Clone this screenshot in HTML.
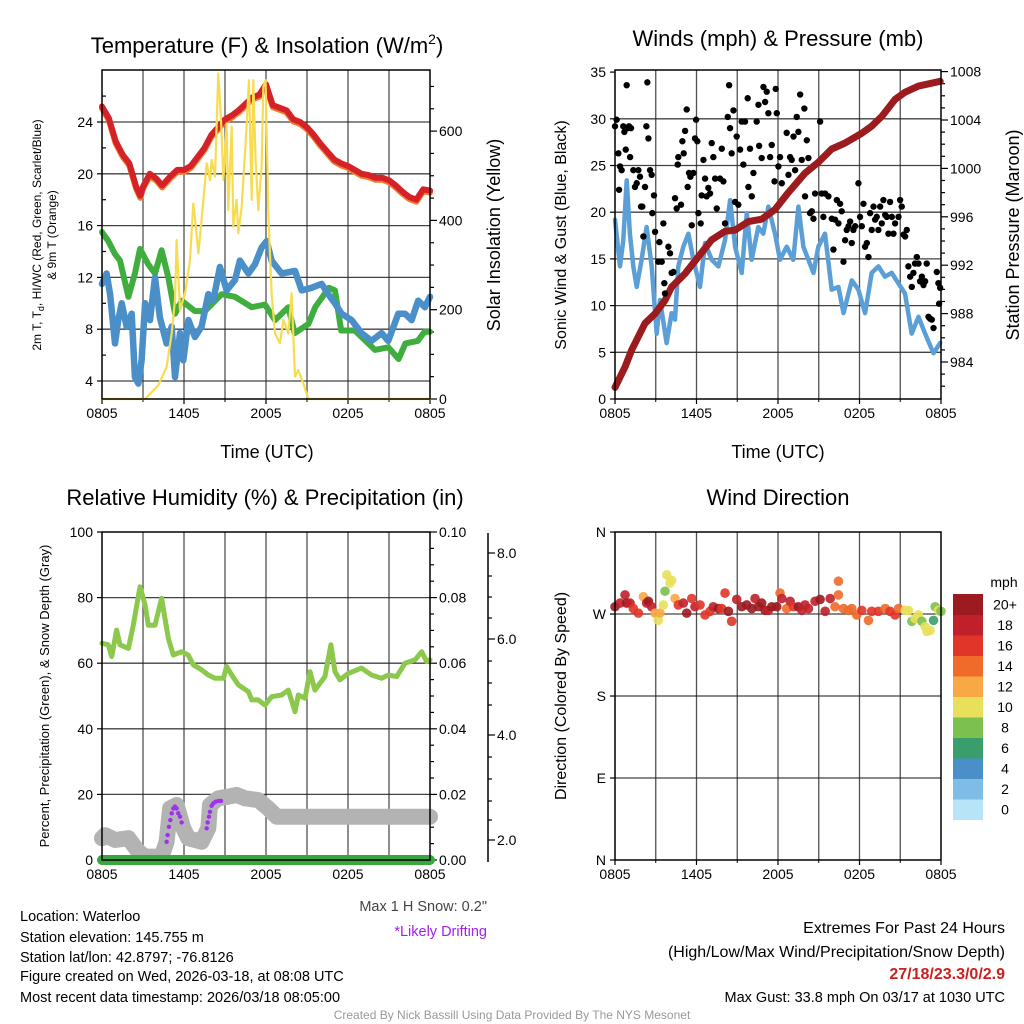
<!DOCTYPE html>
<html><head><meta charset="utf-8"><style>
html,body{margin:0;padding:0;background:#fff;}
svg{display:block;font-family:"Liberation Sans",sans-serif;}
</style></head><body>
<svg id="fig" width="1024" height="1024" viewBox="0 0 1024 1024">
<rect width="1024" height="1024" fill="#fff"/>
<g id="p1"></g>
<g id="p2"></g>
<g id="p3"></g>
<g id="p4"></g>

<text x="267" y="53" font-size="22" text-anchor="middle">Temperature (F) &amp; Insolation (W/m<tspan dy="-9" font-size="14">2</tspan><tspan dy="9">)</tspan></text>
<text x="778" y="46" font-size="22" text-anchor="middle">Winds (mph) &amp; Pressure (mb)</text>
<text x="265" y="505" font-size="22" text-anchor="middle">Relative Humidity (%) &amp; Precipitation (in)</text>
<text x="778" y="505" font-size="22" text-anchor="middle">Wind Direction</text>

<text x="267" y="458" font-size="18" text-anchor="middle">Time (UTC)</text>
<text x="778" y="458" font-size="18" text-anchor="middle">Time (UTC)</text>
<text transform="translate(41,235) rotate(-90)" font-size="12" text-anchor="middle">2m T, T<tspan font-size="9" dy="3">d</tspan><tspan dy="-3">, HI/WC (Red, Green, Scarlet/Blue)</tspan></text>
<text transform="translate(56,235) rotate(-90)" font-size="12" text-anchor="middle">&amp; 9m T (Orange)</text>
<text transform="translate(500,235) rotate(-90)" font-size="18" text-anchor="middle">Solar Insolation (Yellow)</text>
<text transform="translate(566,235) rotate(-90)" font-size="16" text-anchor="middle">Sonic Wind &amp; Gust (Blue, Black)</text>
<text transform="translate(1019,235) rotate(-90)" font-size="18" text-anchor="middle">Station Pressure (Maroon)</text>
<text transform="translate(49,696) rotate(-90)" font-size="13" text-anchor="middle">Percent, Precipitation (Green), &amp; Snow Depth (Gray)</text>
<text transform="translate(566,696) rotate(-90)" font-size="16" text-anchor="middle">Direction (Colored By Speed)</text>

<text x="487" y="911" font-size="14.5" fill="#444" text-anchor="end">Max 1 H Snow: 0.2"</text>
<text x="487" y="936" font-size="14.5" fill="#a020f0" text-anchor="end">*Likely Drifting</text>
<g font-size="14.5">
<text x="20" y="921">Location: Waterloo</text>
<text x="20" y="942">Station elevation: 145.755 m</text>
<text x="20" y="962">Station lat/lon: 42.8797; -76.8126</text>
<text x="20" y="981">Figure created on Wed, 2026-03-18, at 08:08 UTC</text>
<text x="20" y="1002">Most recent data timestamp: 2026/03/18 08:05:00</text>
</g>
<g text-anchor="end">
<text x="1005" y="933" font-size="16">Extremes For Past 24 Hours</text>
<text x="1005" y="957" font-size="16">(High/Low/Max Wind/Precipitation/Snow Depth)</text>
<text x="1005" y="979" font-size="16" font-weight="bold" fill="#cc2020">27/18/23.3/0/2.9</text>
<text x="1005" y="1002" font-size="14.5">Max Gust: 33.8 mph On 03/17 at 1030 UTC</text>
</g>
<text x="512" y="1019" font-size="12" fill="#999" text-anchor="middle">Created By Nick Bassill Using Data Provided By The NYS Mesonet</text>
</svg>
<script>
// ---------- DATA ----------
const timeTickLabels = ["0805","1405","2005","0205","0805"];
const tempT = [0,0.5,1,1.5,2,2.5,2.8,3,3.5,4,4.4,5,5.5,6,6.5,7,7.5,8,8.5,9,9.5,10,10.5,11,11.5,12,12.5,13,13.5,14,14.5,15,15.5,16,16.5,17,17.5,18,18.5,19,19.5,20,20.5,21,21.5,22,22.5,23,23.5,24];
const tempV = [25.2,24.3,22.5,21.5,20.8,19.0,18.3,19.0,20.0,19.6,19.1,19.8,20.3,20.3,20.6,21.3,22.0,23.0,23.6,24.2,24.5,24.9,25.4,25.9,26.1,26.9,25.3,25.1,24.9,24.2,24.0,23.6,23.0,22.3,21.7,21.1,20.8,20.6,20.3,20.0,19.9,19.7,19.7,19.5,19.1,18.6,18.2,18.0,18.8,18.7];
const dewT = [0,0.46,0.95,1.32,1.93,2.41,2.78,3.39,3.88,4.36,4.85,5.34,5.83,6.8,7.53,8.75,9.73,10.95,11.93,12.66,13.63,14.1,15.1,15.6,16.6,17.05,17.5,18.5,19.97,20.95,21.7,22.2,23.1,23.6,24];
const dewV = [15.5,14.8,13.8,13.3,10.5,12.3,14.2,13.0,12.3,14.1,12.0,9.2,10.2,9.4,9.4,10.7,10.5,9.7,9.9,8.7,9.7,7.7,8.4,9.7,11.2,11.0,7.9,7.9,6.4,6.6,5.7,6.9,7.1,7.8,7.8];
const chillT = [0,0.34,0.59,0.95,1.19,1.44,1.8,2.17,2.41,2.66,2.9,3.15,3.51,3.88,4.24,4.73,5.1,5.34,5.71,5.95,6.32,6.8,7.29,7.78,8.14,8.63,9.12,9.73,10.09,10.71,11.19,11.68,12.05,12.41,13.14,14.12,14.61,15.34,16.07,16.56,17.04,17.53,18.26,18.99,19.72,20.46,20.94,21.68,22.17,22.65,23.14,23.63,24];
const chillV = [11.5,12.3,10.7,6.9,8.7,10.0,8.2,9.2,4.3,3.8,5.6,10.0,8.7,12.0,8.9,6.9,8.2,4.3,7.7,5.6,8.7,7.4,8.2,10.7,10.2,12.8,11.0,11.8,13.3,12.3,13.0,14.3,14.8,13.3,12.3,12.5,11.0,11.2,11.5,10.7,10.0,9.2,8.7,7.7,7.1,7.7,7.1,9.2,9.2,8.7,10.2,9.7,10.5];
const solT = [0,3.15,4.12,4.73,5.1,5.34,5.46,5.71,6.07,6.44,6.68,6.8,7.05,7.29,7.66,7.9,8.02,8.27,8.51,8.71,8.88,9.12,9.24,9.49,9.61,9.85,9.97,10.22,10.58,10.75,10.95,11.07,11.24,11.44,11.68,11.8,11.97,12.17,12.41,12.66,13.02,13.27,13.63,13.87,14.12,14.36,14.73,15.1,24];
const solV = [0,0,31,72,147,222,356,199,237,311,438,408,326,401,528,490,535,498,729,625,490,617,423,610,386,446,371,431,610,714,446,714,535,423,520,699,714,416,237,147,125,177,147,237,50,65,35,0,0];
const presT = [0,0.74,1.23,2.21,2.95,3.68,4.17,5.15,6.14,7.12,8.1,8.84,9.82,10.8,11.78,12.76,13.99,14.97,15.95,16.94,18.16,18.9,19.64,20.62,21.36,22.34,23.94];
const presV = [981.9,983.6,985.0,987.2,988.0,989.1,990.2,991.3,992.7,994.1,994.8,994.9,995.6,995.8,996.6,998.0,999.6,1000.5,1001.6,1002.1,1002.9,1003.5,1004.3,1005.7,1006.3,1006.8,1007.2];
const windT = [0,0.37,0.61,0.86,1.1,1.35,1.6,1.96,2.33,2.7,3.07,3.31,3.8,4.17,4.42,4.66,5.03,5.4,5.77,6.26,6.63,7.12,7.61,8.1,8.47,8.84,9.33,9.7,10.06,10.55,10.92,11.29,11.78,12.15,12.64,13.13,13.5,13.87,14.24,14.61,14.97,15.46,15.95,16.45,16.82,17.43,17.92,18.41,18.9,19.39,19.88,20.37,20.86,21.35,21.84,22.34,22.83,23.45,23.94];
const windV = [19.2,14.2,17.0,23.4,17.7,14.2,12.0,14.9,18.4,14.2,7.0,10.6,6.0,9.2,8.5,14.2,16.3,17.7,14.9,12.0,16.7,14.9,14.2,17.0,21.3,16.3,13.5,19.9,14.9,18.4,17.7,20.6,17.7,14.9,16.3,14.9,20.6,16.3,14.9,13.5,16.3,17.7,11.7,12.0,9.2,12.7,11.7,9.2,13.5,14.2,13.1,13.5,12.4,11.3,7.0,8.8,7.0,4.9,6.0];
const gustT = [0,0.12,0.25,0.37,0.3,0.49,0.61,0.69,0.86,0.79,0.93,1.03,1.11,1.18,1.35,1.47,1.6,1.72,1.84,1.92,2.01,2.09,2.21,2.31,2.38,2.46,2.58,2.7,2.75,2.87,2.95,3.19,3.27,3.44,3.56,3.63,3.68,3.93,4.05,4.17,4.3,4.42,4.54,4.62,4.66,4.86,4.96,5.06,5.16,5.28,5.35,5.45,5.55,5.65,5.77,5.89,5.97,6.06,6.14,6.31,6.38,6.51,6.63,6.75,6.87,7.0,7.12,7.24,7.37,7.49,7.73,7.86,7.98,8.1,8.3,8.4,8.47,8.59,8.72,8.84,8.96,9.08,9.21,9.33,9.45,9.57,9.77,9.82,9.94,10.07,10.19,10.43,10.56,10.61,10.8,10.93,11.05,11.17,11.29,11.42,11.54,11.74,11.83,11.91,12.03,12.15,12.28,12.64,12.77,12.89,13.01,13.14,13.26,13.38,13.5,13.63,13.75,13.94,13.99,14.12,14.24,14.36,14.49,14.61,14.73,15.1,15.22,15.34,15.47,15.71,15.96,16.08,16.2,16.33,16.45,16.57,16.69,16.82,16.94,17.06,17.19,17.31,17.43,17.55,17.68,17.92,18.04,18.17,18.29,18.41,18.54,18.66,18.78,18.9,19.03,19.15,19.27,19.39,19.52,19.64,19.76,19.89,20.01,20.13,20.25,20.38,20.5,20.62,20.87,20.99,21.11,21.24,21.36,21.48,21.6,21.73,21.85,21.97,22.09,22.22,22.34,22.46,22.59,22.71,22.83,22.95,23.08,23.2,23.32,23.45,23.69,23.81,23.94,23.86];
const gustV = [29.2,29.9,26.3,24.9,22.4,24.5,29.2,28.6,33.6,26.7,29.0,29.2,25.9,29.0,24.5,22.7,23.1,24.5,23.8,20.6,20.6,17.4,22.7,29.2,33.9,27.9,24.5,24.0,19.9,21.8,17.9,14.7,16.8,14.7,18.8,12.4,11.3,16.3,15.6,13.5,13.6,21.5,20.4,25.1,25.9,20.8,27.6,26.3,28.7,31.0,22.7,24.2,23.8,18.6,24.2,27.9,29.9,27.6,19.9,18.8,21.8,25.6,23.6,21.7,22.6,22.0,27.4,25.9,23.6,20.4,23.6,26.8,23.3,18.8,30.2,33.6,29.0,26.3,30.9,21.1,28.1,20.8,26.7,29.7,25.1,29.7,32.2,22.7,26.8,21.7,24.2,29.7,31.5,27.1,25.8,33.4,31.8,32.9,30.6,25.9,27.2,23.3,33.2,30.6,24.9,25.9,23.1,28.5,24.0,25.9,25.6,28.1,24.5,30.2,28.6,32.6,25.6,31.1,21.7,27.7,25.8,19.9,20.1,19.3,22.0,29.7,22.0,19.5,22.0,21.7,19.3,16.0,19.2,21.3,18.8,20.9,20.1,14.7,17.0,18.1,18.5,19.0,16.7,18.1,18.5,23.1,19.5,18.5,20.9,16.3,16.7,15.2,19.9,18.1,20.6,19.2,19.5,18.1,20.6,18.8,21.3,19.7,19.5,17.7,21.1,19.5,17.7,18.8,19.5,21.3,20.6,17.6,17.4,18.1,14.2,13.1,12.0,13.5,14.5,15.2,14.5,12.6,13.1,12.2,12.6,14.5,8.8,8.6,8.5,7.6,13.6,12.4,11.9,10.2];
const rhT = [0,0.46,0.71,1.07,1.32,1.93,2.29,2.78,3.15,3.39,3.88,4.36,4.85,5.22,5.83,6.31,6.68,7.29,7.78,8.27,8.88,9.12,9.49,9.97,10.71,10.95,11.44,11.93,12.41,13.14,13.63,14.12,14.36,14.85,15.22,15.58,16.31,16.75,17.05,17.41,18.02,18.99,19.72,20.46,20.95,21.56,22.17,22.9,23.39,23.75,24];
const rhV = [66.1,65.6,62.0,70.1,65.6,64.5,71.6,83.3,77.7,71.6,71.6,79.8,67.6,62.5,63.5,62.5,59.5,58.0,56.4,55.4,55.4,59.0,56.4,53.4,51.3,48.8,48.8,47.2,49.8,50.3,51.8,45.2,50.3,49.3,57.4,51.8,55.9,65.6,57.4,54.9,56.9,58.5,56.4,55.4,56.4,55.9,60.0,61.0,63.5,60.5,61.0];
const snowT = [0,0.22,0.95,1.93,2.66,3.15,4.36,4.73,4.98,5.46,5.95,6.31,7.29,7.78,7.9,8.51,9.24,9.85,10.46,11.44,12.17,12.78,14.12,24];
const snowV = [2.07,2.19,2.0,2.07,1.55,1.36,1.36,1.93,3.22,3.35,2.45,2.07,1.93,2.45,3.35,3.61,3.67,3.74,3.61,3.54,3.22,2.9,2.9,2.9];
const driftT = [4.73,4.8,4.9,5.0,5.1,5.22,5.34,5.46,5.58,5.71,5.83,7.66,7.73,7.83,7.9,8.02,8.14,8.31,8.51,8.71];
const driftV = [1.93,2.19,2.51,2.77,3.03,3.22,3.29,3.22,3.03,2.9,2.68,2.45,2.68,2.9,3.09,3.32,3.41,3.48,3.51,3.51];
const precipT = [0,24];
const precipV = [0,0];
const dirT = [0,0.37,0.74,0.86,1.11,1.35,1.72,2.09,2.33,2.46,2.7,2.95,3.19,3.31,3.56,3.68,3.81,4.05,4.17,4.42,4.66,5.03,5.28,5.65,5.89,6.26,6.63,7.0,7.24,7.61,7.86,8.1,8.35,8.59,8.96,9.33,9.7,10.07,10.31,10.56,10.8,11.05,11.29,11.54,11.91,12.15,12.28,12.64,12.89,13.14,13.5,13.75,13.99,14.24,14.73,15.1,15.47,15.84,16.2,16.45,16.45,16.82,17.19,17.43,17.8,18.17,18.66,18.9,19.39,19.89,20.25,20.62,20.87,21.36,21.6,21.85,22.09,22.34,22.59,22.83,22.96,23.2,23.45,23.57,23.81,24];
const dirV = [278,282,291,282,282,276,271,289,282,284,278,271,263,271,280,295,313,304,307,287,280,282,271,287,278,280,269,273,278,276,276,293,273,262,286,278,280,276,287,278,282,274,274,278,278,293,287,276,284,278,278,274,280,276,284,286,273,287,278,291,306,276,274,276,269,274,263,273,273,276,273,269,276,274,274,262,265,269,262,256,251,252,263,278,274,273];
const dirS = [21,17,17,21,17,15,15,11,17,21,17,11,9,11,9,7,9,9,9,11,15,17,21,15,17,15,15,15,17,21,15,15,21,15,17,21,21,21,17,21,21,21,17,21,21,13,17,13,17,15,21,17,17,17,17,21,17,17,13,13,13,13,13,13,13,15,13,15,15,13,15,15,13,10,9,7,9,9,7,9,9,9,5,7,9,7];
const dirLabels = ["N","W","S","E","N"];
const speedBins = ["0","2","4","6","8","10","12","14","16","18","20+"];
const speedColors = ["#b8e4f8","#80bde6","#4a8fc8","#3a9e6c","#7cc04f","#e8e05a","#f8a845","#f06a2a","#e03528","#c0202a","#9b1b20"];

// ---------- HELPERS ----------
const NS = "http://www.w3.org/2000/svg";
function mk(parent, tag, attrs) { const e = document.createElementNS(NS, tag); for (const k in attrs) e.setAttribute(k, attrs[k]); parent.appendChild(e); return e; }
function line(parent, ts, vs, xf, yf, attrs) {
  let d = ts.map((t, i) => (i ? "L" : "M") + xf(t).toFixed(1) + "," + yf(vs[i]).toFixed(1)).join("");
  return mk(parent, "path", Object.assign({ d: d, fill: "none", "stroke-linejoin": "round", "stroke-linecap": "round" }, attrs));
}
function frame(g, L, T, R, B) {
  const fr = mk(g, "rect", { x: L, y: T, width: R - L, height: B - T, fill: "none", stroke: "#000", "stroke-width": 1.5 });
  
  
}
function gridV(g, L, R, T, B) {
  for (let i = 1; i < 8; i++) { const x = L + (R - L) * i / 8; mk(g, "line", { x1: x, x2: x, y1: T, y2: B, stroke: "#333", "stroke-width": 1.3, opacity: 0.85 }); }
}
function gridH(g, ys, L, R) { ys.forEach(y => mk(g, "line", { x1: L, x2: R, y1: y, y2: y, stroke: "#222", "stroke-width": 1.3, opacity: 0.85 })); }
function xTicks(g, L, R, B) {
  timeTickLabels.forEach((lab, i) => {
    const x = L + (R - L) * i / 4;
    mk(g, "line", { x1: x, x2: x, y1: B, y2: B + 5, stroke: "#000", "stroke-width": 1.2 });
    const t = mk(g, "text", { x: x, y: B + 19, "font-size": 14, "text-anchor": "middle" }); t.textContent = lab;
    
    
  });
  for (let i = 1; i < 8; i += 2) { const x = L + (R - L) * i / 8; mk(g, "line", { x1: x, x2: x, y1: B, y2: B + 3, stroke: "#000" }); }
}
function yTick(g, x, y, lab, side, len) {
  mk(g, "line", { x1: x, x2: x + (side === "L" ? -len : len), y1: y, y2: y, stroke: "#000", "stroke-width": 1.2 });
  if (lab !== null) {
    const t = mk(g, "text", { x: side === "L" ? x - 9 : x + 9, y: y + 5, "font-size": 14, "text-anchor": side === "L" ? "end" : "start" }); t.textContent = lab;
    
    
  }
}

// ---------- PANEL 1 ----------
(function () {
  const g = document.getElementById("p1"), L = 102, R = 430, T = 70, B = 399;
  const x = t => L + t * (R - L) / 24;
  const yT = v => 381 - (v - 4) * 12.95;
  const yS = w => 399 - w * 0.4465;
  gridV(g, L, R, T, B);
  gridH(g, [4, 8, 12, 16, 20, 24].map(yT), L, R);
  [4, 8, 12, 16, 20, 24].forEach(v => yTick(g, L, yT(v), String(v), "L", 5));
  for (let v = 6; v < 28; v += 4) yTick(g, L, yT(v), null, "R", 4);
  for (let w = 0; w <= 700; w += 50) yTick(g, R, yS(w), w % 200 === 0 ? String(w) : null, "R", w % 200 === 0 ? 7 : 4);
  xTicks(g, L, R, B);
  const cg = mk(g, "g", {});
  const o = line(cg, tempT, tempV, x, v => yT(v) + 2, { stroke: "#f47a2c", "stroke-width": 6 });
  
  
  const r = line(cg, tempT, tempV, x, yT, { stroke: "#d42228", "stroke-width": 6 });
  
  
  const gr = line(cg, dewT, dewV, x, yT, { stroke: "#3fae3f", "stroke-width": 6 });
  
  
  const b = line(cg, chillT, chillV, x, yT, { stroke: "#4a8fc8", "stroke-width": 6.5 });
  
  
  const s = line(cg, solT, solV, x, yS, { stroke: "#f8dc50", "stroke-width": 2.2 });
  
  
  frame(g, L, T, R, B);
})();

// ---------- PANEL 2 ----------
(function () {
  const g = document.getElementById("p2"), L = 615, R = 941, T = 70, B = 399;
  const x = t => L + t * (R - L) / 24;
  const yW = v => 399 - v * 9.34;
  const yP = p => 362 - (p - 984) * 12.1;
  gridV(g, L, R, T, B);
  gridH(g, [5, 10, 15, 20, 25, 30].map(yW), L, R);
  [0, 5, 10, 15, 20, 25, 30, 35].forEach(v => yTick(g, L, yW(v), String(v), "L", 5));
  for (let p = 982; p <= 1008; p++) if (yP(p) >= T - 2 && yP(p) <= B) yTick(g, R, yP(p), p % 4 === 0 ? String(p) : null, "R", p % 4 === 0 ? 7 : 4);
  xTicks(g, L, R, B);
  const w = line(g, windT, windV, x, yW, { stroke: "#5b9fd6", "stroke-width": 4.5 });
  
  
  const pr = line(g, presT, presV, x, yP, { stroke: "#9c1b1e", "stroke-width": 7 });
  
  
  gustT.forEach((t, i) => {
    const c = mk(g, "circle", { cx: x(t), cy: yW(gustV[i]), r: 3.2, fill: "#000" });
    
    
  });
  frame(g, L, T, R, B);
})();

// ---------- PANEL 3 ----------
(function () {
  const g = document.getElementById("p3"), L = 102, R = 430, T = 532, B = 860;
  const x = t => L + t * (R - L) / 24;
  const yRH = v => 860 - v * 3.28;
  const ySn = d => 840 - (d - 2) * 25.9;
  const yPr = p => 860 - p * 3280;
  gridV(g, L, R, T, B);
  gridH(g, [20, 40, 60, 80].map(yRH), L, R);
  [0, 20, 40, 60, 80, 100].forEach(v => yTick(g, L, yRH(v), String(v), "L", 5));
  for (let k = 0; k <= 20; k++) { const p = k * 0.005; yTick(g, R, yPr(p), k % 4 === 0 ? p.toFixed(2) : null, "R", k % 4 === 0 ? 7 : 4); }
  mk(g, "line", { x1: 488, x2: 488, y1: 533, y2: 862, stroke: "#000", "stroke-width": 1.5 });
  [[553, "8.0"], [639, "6.0"], [735, "4.0"], [840, "2.0"]].forEach(a => yTick(g, 488, a[0], a[1], "R", 7));
  [576, 597, 618, 661, 683, 705, 757, 779, 801, 820].forEach(y => yTick(g, 488, y, null, "R", 4));
  xTicks(g, L, R, B);
  const sn = line(g, snowT, snowV, x, ySn, { stroke: "#b3b3b3", "stroke-width": 16 });
  
  
  driftT.forEach((t, i) => {
    const c = mk(g, "circle", { cx: x(t), cy: ySn(driftV[i]), r: 2.2, fill: "#a030f0" });
    
    
  });
  const rh = line(g, rhT, rhV, x, yRH, { stroke: "#8cc84b", "stroke-width": 5 });
  
  
  const pc = line(g, precipT, precipV, x, yPr, { stroke: "#3aa640", "stroke-width": 10 });
  
  
  frame(g, L, T, R, B);
})();

// ---------- PANEL 4 ----------
(function () {
  const g = document.getElementById("p4"), L = 615, R = 941, T = 532, B = 860;
  const x = t => L + t * (R - L) / 24;
  const yD = d => 860 - d * 0.911;
  gridV(g, L, R, T, B);
  gridH(g, [270, 180, 90].map(yD), L, R);
  dirLabels.forEach((lab, i) => yTick(g, L, yD(360 - i * 90), lab, "L", 5));
  xTicks(g, L, R, B);
  const colorFor = s => speedColors[Math.max(0, Math.min(10, Math.round(s / 2)))];
  dirT.forEach((t, i) => {
    const c = mk(g, "circle", { cx: x(t), cy: yD(dirV[i]), r: 4.8, fill: colorFor(dirS[i]), opacity: 0.9 });
    
    
  });
  frame(g, L, T, R, B);
  const cb = mk(g, "g", {});
  
  
  const h = 20.5;
  speedBins.forEach((lab, i) => {
    const y = 594 + (10 - i) * h;
    mk(cb, "rect", { x: 953, y: y, width: 30, height: h + 0.5, fill: speedColors[i] });
    const t = mk(cb, "text", { x: 1005, y: y + h / 2 + 5, "font-size": 14, "text-anchor": "middle" }); t.textContent = lab;
    
    
  });
  const u = mk(cb, "text", { x: 1004, y: 587, "font-size": 14, "text-anchor": "middle" }); u.textContent = "mph";
  
  
})();
</script>
</body></html>
